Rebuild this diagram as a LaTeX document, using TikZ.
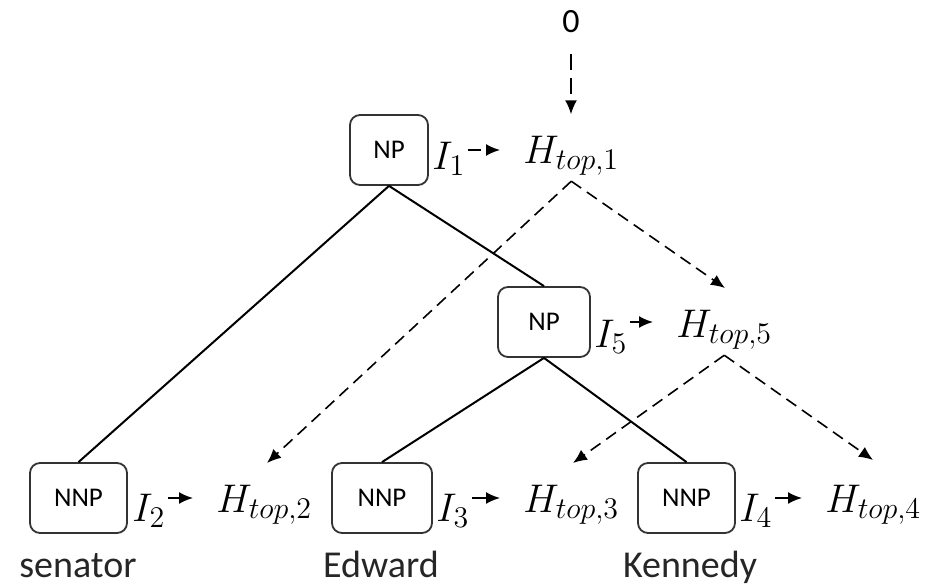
\RequirePackage{fix-cm}
\documentclass[tikz,border=0pt]{standalone}
\usepackage{fontspec}
\newfontfamily\labelfont{Carlito}
\usepackage{tikz}
\usetikzlibrary{arrows.meta}
\DeclareMathSizes{20}{20}{15}{11}

\begin{document}
\begin{tikzpicture}[x=0.5pt,y=-0.5pt,every text node part/.style={align=center},
	synbox/.style={draw=black!80,line width=0.9pt,rounded corners=5pt,minimum height=35pt,font=\labelfont\fontsize{13.5}{16}\selectfont},
	hid/.style={anchor=base west,inner sep=1pt,font=\fontsize{20}{24}\selectfont},
	word/.style={anchor=base,text=black!85,font=\labelfont\fontsize{19}{22}\selectfont},
	dsh/.style={dash pattern=on 6pt off 3.5pt,line width=0.8pt},
	>={Latex[length=7pt,width=6pt]}]
			\useasboundingbox (0,0) rectangle (927,588);
			% tree nodes
			\node[font=\labelfont\fontsize{17}{20}\selectfont] (zero) at (571,22) {0};
			\node[synbox,minimum width=39pt] (np1) at (389,150) {NP};
			\node[synbox,minimum width=46pt] (np5) at (544,322) {NP};
			\node[synbox,minimum width=48.5pt] (nnp1) at (78.5,498) {NNP};
			\node[synbox,minimum width=50pt] (nnp2) at (382,498) {NNP};
			\node[synbox,minimum width=48.5pt] (nnp3) at (686.5,498) {NNP};
			% inputs and states
			\node[hid] (i1) at (430,170) {$I_1$};
			\node[hid] (i5) at (592,348) {$I_5$};
			\node[hid] (i2) at (130,521) {$I_2$};
			\node[hid] (i3) at (434,521) {$I_3$};
			\node[hid] (i4) at (737,521) {$I_4$};
			\node[hid,inner sep=2.5pt] (h1) at (518,164) {$H_{top,1}$};
			\node[hid,inner sep=2.5pt] (h5) at (671,338) {$H_{top,5}$};
			\node[hid,inner sep=2.5pt] (h2) at (211,512) {$H_{top,2}$};
			\node[hid,inner sep=2.5pt] (h3) at (518,512) {$H_{top,3}$};
			\node[hid,inner sep=2.5pt] (h4) at (820,512) {$H_{top,4}$};
			% words
			\node[word] (w1) at (78,577) {senator};
			\node[word] (w2) at (381,577) {Edward};
			\node[word] (w3) at (690,577) {Kennedy};
			\coordinate (t2) at (267,463);
			\coordinate (t5) at (725,288);
			\coordinate (t3) at (573,463);
			\coordinate (t4) at (873,460);
			% tree edges
			\draw[line width=1pt] (np1.south) -- (nnp1.north);
			\draw[line width=1pt] (np1.south) -- (np5.north);
			\draw[line width=1pt] (np5.south) -- (nnp2.north);
			\draw[line width=1pt] (np5.south) -- (nnp3.north);
			% state flow
			\draw[dsh,dash pattern=on 8pt off 4pt,->,shorten <=7pt,shorten >=8.5pt] (zero.south) -- (zero |- h1.north);
			\draw[dsh,->] (h1.south) -- (t2);
			\draw[dsh,->] (h1.south) -- (t5);
			\draw[dsh,->] (h5.south) -- (t3);
			\draw[dsh,->] (h5.south) -- (t4);
			\draw[line width=0.9pt,dash pattern=on 6.5pt off 4pt,->,shorten >=9pt] (i1.east |- np1) -- (h1.west |- np1);
			\draw[line width=0.9pt,->,shorten >=9pt] (i5.east |- np5) -- (h5.west |- np5);
			\draw[line width=0.9pt,->,shorten >=9pt] (i2.east |- nnp1) -- (h2.west |- nnp1);
			\draw[line width=0.9pt,->,shorten >=9pt] (i3.east |- nnp2) -- (h3.west |- nnp2);
			\draw[line width=0.9pt,->,shorten >=9pt] (i4.east |- nnp3) -- (h4.west |- nnp3);
		\end{tikzpicture}
\end{document}
